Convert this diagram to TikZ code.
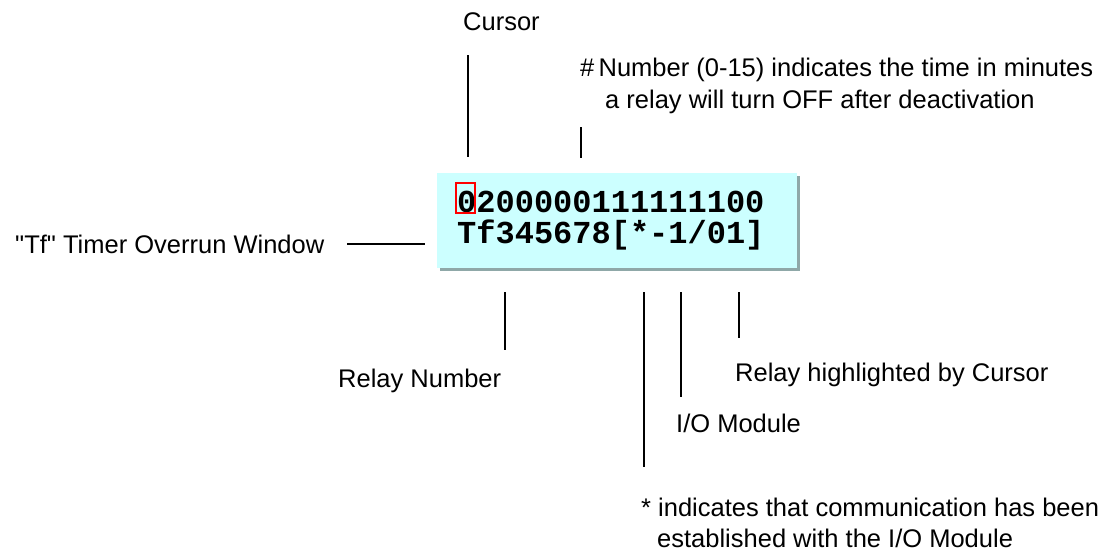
\documentclass[tikz,border=0pt]{standalone}
\usepackage{fontspec}
\setmainfont{Liberation Sans}[Ligatures=TeXOff]
\newfontfamily\monob{Liberation Mono}
\definecolor{boxfill}{HTML}{CCFFFF}
\definecolor{shadowc}{HTML}{8FA8A8}
\begin{document}
\begin{tikzpicture}[x=1pt,y=-1pt,
  lbl/.style={anchor=west,inner sep=0pt,font=\fontsize{25.5}{28}\selectfont},
  mono/.style={anchor=base west,inner sep=0pt,font=\monob\bfseries\fontsize{32}{32}\selectfont},
  callout/.style={draw=black,line width=1.2pt}]
\useasboundingbox (0,0) rectangle (1117,552);
% box with shadow
\fill[shadowc] (440,176) rectangle (800,271);
\fill[boxfill] (437,173) rectangle (797,268);
\node[mono] (l1) at (457,212) {0200000111111100};
\node[mono] (l2) at (457,243) {Tf345678[*-1/01]};
\draw[red,line width=1.2pt] (456,183) rectangle (475,213);
% labels
\node[lbl] (cur) at (463,22) {Cursor};
\node[lbl] (num1) at (580,70) {\#\,Number (0-15) indicates the time in minutes};
\node[lbl] (num2) at (605,102) {a relay will turn OFF after deactivation};
\node[lbl] (tf) at (15,244) {"Tf" Timer Overrun Window};
\node[lbl] (rn) at (338,381) {Relay Number};
\node[lbl] (rh) at (735,375) {Relay highlighted by Cursor};
\node[lbl] (io) at (676,423) {I/O Module};
\node[lbl] (st1) at (641,507) {* indicates that communication has been};
\node[lbl] (st2) at (657,538) {established with the I/O Module};
% callout ends
\coordinate (c1a) at (468,55);  \coordinate (c1b) at (468,157);
\coordinate (c2a) at (581,127); \coordinate (c2b) at (581,158);
\coordinate (c3a) at (347,244); \coordinate (c3b) at (425,244);
\coordinate (c4a) at (505,292); \coordinate (c4b) at (505,350);
\coordinate (c5a) at (644,292); \coordinate (c5b) at (644,467);
\coordinate (c6a) at (681,292); \coordinate (c6b) at (681,397);
\coordinate (c7a) at (739,292); \coordinate (c7b) at (739,338);
\draw[callout] (c1a) -- (c1b);
\draw[callout] (c2a) -- (c2b);
\draw[callout] (c3a) -- (c3b);
\draw[callout] (c4a) -- (c4b);
\draw[callout] (c5a) -- (c5b);
\draw[callout] (c6a) -- (c6b);
\draw[callout] (c7a) -- (c7b);
\end{tikzpicture}
\end{document}
